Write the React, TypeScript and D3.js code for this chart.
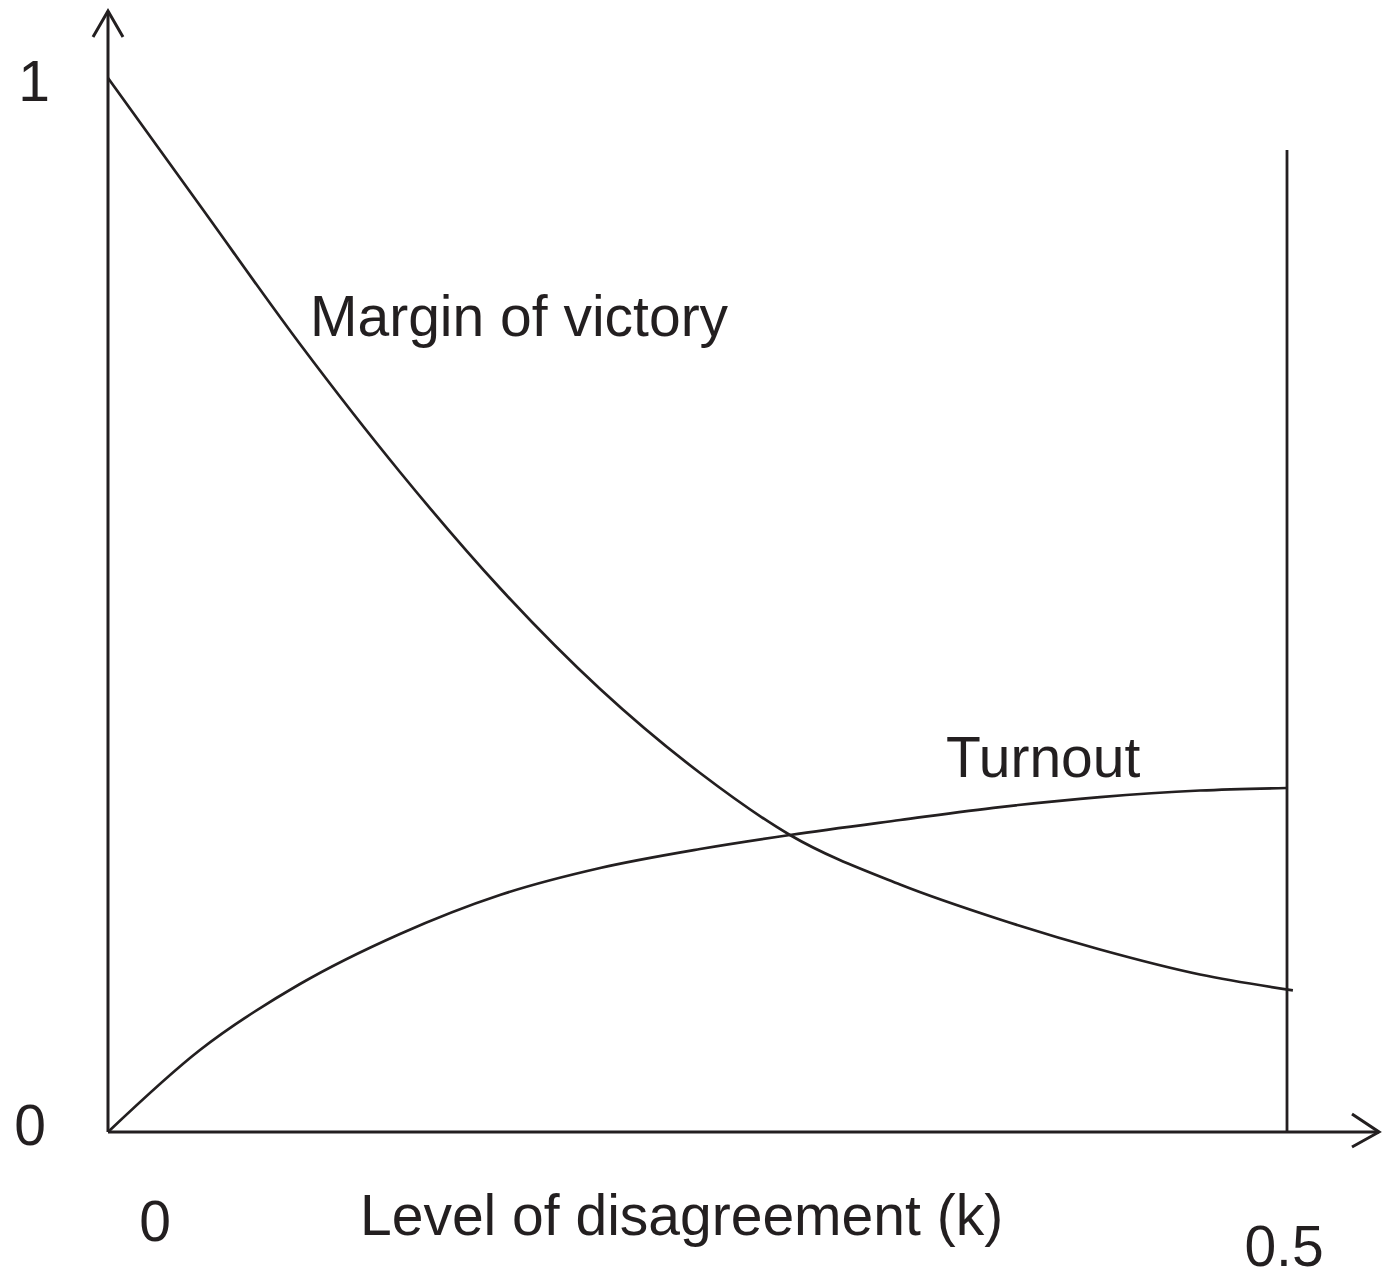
import React from "react";
import * as d3 from "d3";

const kGrid = [0, 0.039, 0.0814, 0.1238, 0.1662, 0.2087, 0.2511, 0.2892, 0.3359, 0.3783, 0.4207, 0.4631];
const marginK = [...kGrid, 0.5025];
const marginValues = [1.0, 0.879, 0.7476, 0.6262, 0.5161, 0.4203, 0.3406, 0.2818, 0.2348, 0.2016, 0.1731, 0.1494, 0.1344];
const turnoutK = [...kGrid, 0.5];
const turnoutValues = [0, 0.0778, 0.1404, 0.1879, 0.2249, 0.2505, 0.2685, 0.2818, 0.296, 0.3083, 0.3178, 0.324, 0.3264];
const xTickLabels = ["0", "0.5"];
const yTickLabels = ["0", "1"];
const seriesNames = ["Margin of victory", "Turnout"];
const xTitle = "Level of disagreement (k)";

export default function App() {
  const W = 1386, H = 1284;
  const x = d3.scaleLinear().domain([0, 0.5]).range([108, 1287]);
  const y = d3.scaleLinear().domain([0, 1]).range([1132, 78]);
  const line = d3
    .line<[number, number]>()
    .x((d) => x(d[0]))
    .y((d) => y(d[1]))
    .curve(d3.curveMonotoneX);
  const margin: [number, number][] = marginK.map((k, i) => [k, marginValues[i]]);
  const turnout: [number, number][] = turnoutK.map((k, i) => [k, turnoutValues[i]]);
  const stroke = "#231f20";
  const font = "'Liberation Sans', Arial, Helvetica, sans-serif";
  const x0 = x(0), y0 = y(0);
  const fs = 57;
  return (
    <svg
      width={W}
      height={H}
      style={{ position: "absolute", left: 0, top: 0, display: "block", background: "#fff" }}
      fontFamily={font}
    >
      <rect width={W} height={H} fill="#fff" />
      {/* y axis with arrow */}
      <line x1={x0} y1={y0} x2={x0} y2={11} stroke={stroke} strokeWidth={3} />
      <polyline points={`${x0 - 15},37 ${x0},11 ${x0 + 15},37`} fill="none" stroke={stroke} strokeWidth={3} />
      {/* x axis with arrow */}
      <line x1={x0} y1={y0} x2={1379} y2={y0} stroke={stroke} strokeWidth={3} />
      <polyline points={`1352,${y0 - 18} 1379,${y0} 1352,${y0 + 15}`} fill="none" stroke={stroke} strokeWidth={3} />
      {/* vertical line at k = 0.5 */}
      <line x1={x(0.5)} y1={y0} x2={x(0.5)} y2={150} stroke={stroke} strokeWidth={2.8} />
      {/* curves */}
      <path d={line(margin) || ""} fill="none" stroke={stroke} strokeWidth={2.7} />
      <path d={line(turnout) || ""} fill="none" stroke={stroke} strokeWidth={2.7} />
      {/* labels */}
      <text x={34} y={101} fontSize={fs} textAnchor="middle" fill={stroke}>{yTickLabels[1]}</text>
      <text x={30} y={1145} fontSize={fs} textAnchor="middle" fill={stroke}>{yTickLabels[0]}</text>
      <text x={155} y={1241} fontSize={fs} textAnchor="middle" fill={stroke}>{xTickLabels[0]}</text>
      <text x={1284} y={1266} fontSize={fs} textAnchor="middle" fill={stroke}>{xTickLabels[1]}</text>
      <text x={360} y={1235} fontSize={fs} fill={stroke}>{xTitle}</text>
      <text x={310} y={336} fontSize={fs} fill={stroke}>{seriesNames[0]}</text>
      <text x={946} y={777} fontSize={fs} fill={stroke}>{seriesNames[1]}</text>
    </svg>
  );
}
